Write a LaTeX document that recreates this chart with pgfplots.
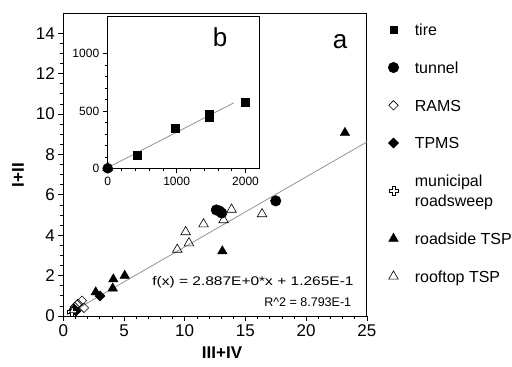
\documentclass[border=0pt]{standalone}
\usepackage{pgfplots}
\pgfplotsset{compat=1.18}
\usepackage{fontspec}
\setmainfont{Liberation Sans}
\pgfdeclareplotmark{hplus}{%
  \pgfpathmoveto{\pgfqpoint{-.35\pgfplotmarksize}{\pgfplotmarksize}}%
  \pgfpathlineto{\pgfqpoint{.35\pgfplotmarksize}{\pgfplotmarksize}}%
  \pgfpathlineto{\pgfqpoint{.35\pgfplotmarksize}{.35\pgfplotmarksize}}%
  \pgfpathlineto{\pgfqpoint{\pgfplotmarksize}{.35\pgfplotmarksize}}%
  \pgfpathlineto{\pgfqpoint{\pgfplotmarksize}{-.35\pgfplotmarksize}}%
  \pgfpathlineto{\pgfqpoint{.35\pgfplotmarksize}{-.35\pgfplotmarksize}}%
  \pgfpathlineto{\pgfqpoint{.35\pgfplotmarksize}{-\pgfplotmarksize}}%
  \pgfpathlineto{\pgfqpoint{-.35\pgfplotmarksize}{-\pgfplotmarksize}}%
  \pgfpathlineto{\pgfqpoint{-.35\pgfplotmarksize}{-.35\pgfplotmarksize}}%
  \pgfpathlineto{\pgfqpoint{-\pgfplotmarksize}{-.35\pgfplotmarksize}}%
  \pgfpathlineto{\pgfqpoint{-\pgfplotmarksize}{.35\pgfplotmarksize}}%
  \pgfpathlineto{\pgfqpoint{-.35\pgfplotmarksize}{.35\pgfplotmarksize}}%
  \pgfpathclose
  \pgfusepathqfillstroke}
\begin{document}
\begin{tikzpicture}
\path[use as bounding box] (0,0) rectangle (512bp,367bp);
\begin{axis}[
  at={(63.3bp,51bp)}, anchor=south west, scale only axis,
  width=303.5bp, height=303bp,
  xmin=0, xmax=25, ymin=0, ymax=15,
  xtick={0,5,...,25}, ytick={0,2,...,14},
  minor x tick num=4, minor y tick num=3,
  xtick pos=left, ytick pos=left, tick align=outside,
  major tick length=5bp, minor tick length=3bp,
  tick style={black, line width=0.6bp},
  axis line style={line width=0.8bp},
  /pgf/number format/assume math mode=true,
  tick label style={font=\fontsize{17bp}{20bp}\selectfont},
  xlabel={\textbf{III+IV}}, ylabel={\textbf{I+II}},
  label style={font=\fontsize{17bp}{20bp}\selectfont},
  xlabel style={at={(axis description cs:0.523,-0.122)}, anchor=center},
  ylabel style={at={(axis description cs:-0.149,0.465)}, anchor=center},
  legend style={draw=none, fill=none, at={(axis description cs:1.06,0.983)}, anchor=north west,
    cells={anchor=west, align=left}, font=\fontsize{16bp}{19bp}\selectfont, row sep=19bp,
    /tikz/every odd column/.append style={column sep=14bp}},
]
\addlegendimage{only marks, mark=square*, mark size=3.5bp, black}
\addlegendentry{\strut tire}
\addplot[only marks, mark=*, mark size=5.3bp, black] coordinates {(12.6,5.25) (12.85,5.2) (13.05,5.1) (17.5,5.7)};
\addlegendentry{\strut tunnel}
\addplot[only marks, mark=square, mark size=3.3bp, black, mark options={rotate=45, fill=white, line width=0.6bp}] coordinates {(1.54,0.76) (1.7,0.4) (1.2,0.6) (0.95,0.45)};
\addlegendentry{\strut RAMS}
\addplot[only marks, mark=square*, mark size=3.6bp, black, mark options={rotate=45}] coordinates {(3.02,0.99) (0.9,0.33) (1.05,0.25)};
\addlegendentry{\strut TPMS}
\addplot[only marks, mark=hplus, mark size=4.5bp, black, mark options={fill=white, line width=0.6bp}] coordinates {(0.7,0.2)};
\addlegendentry{\strut municipal\\[1bp]\strut roadsweep}
\addplot[only marks, mark=triangle*, mark size=5.5bp, black] coordinates {(13.1,3.21) (5.06,2.0) (4.12,1.82) (4.07,1.37) (2.67,1.18) (23.2,9.07)};
\addlegendentry{\strut roadside TSP}
\addplot[only marks, mark=triangle, mark size=5.5bp, black, mark options={fill=white, line width=0.6bp}] coordinates {(10.08,4.16) (9.39,3.29) (10.35,3.61) (11.55,4.55) (13.86,5.27) (13.2,4.75) (16.37,5.05) (0.9,0.3)};
\addlegendentry{\strut rooftop TSP}
\addplot[gray!85, line width=0.8bp, forget plot] coordinates {(0.3,0.06) (25,8.616)};
\node[anchor=east, font=\fontsize{12.5bp}{15bp}\selectfont] at (axis cs:24.2,1.69) {\scalebox{1.24}[1]{f(x) = 2.887E+0*x + 1.265E-1}};
\node[anchor=east, font=\fontsize{12.5bp}{15bp}\selectfont] at (axis cs:24.0,0.70) {R\textasciicircum 2 = 8.793E-1};
\node[font=\fontsize{26bp}{30bp}\selectfont] at (axis cs:22.8,13.6) {a};
\end{axis}
\begin{axis}[
  at={(107.7bp,198.7bp)}, anchor=south west, scale only axis,
  width=151.6bp, height=151.6bp,
  xmin=0, xmax=2200, ymin=0, ymax=1320,
  xtick={0,1000,2000}, ytick={0,500,1000},
  minor x tick num=4, minor y tick num=4,
  xtick pos=left, ytick pos=left, tick align=outside,
  major tick length=5bp, minor tick length=3bp,
  tick style={black, line width=0.6bp},
  axis line style={line width=0.8bp},
  axis background/.style={fill=white},
  scaled ticks=false,
  /pgf/number format/assume math mode=true,
  /pgf/number format/1000 sep={},
  tick label style={font=\fontsize{12bp}{14bp}\selectfont},
  clip=false,
]
\addplot[gray!85, line width=0.8bp] coordinates {(0,5) (1830,570)};
\addplot[only marks, mark=square*, mark size=4bp, black] coordinates {(421,116) (983,350) (1473,470) (1480,445) (1996,579)};
\addplot[only marks, mark=*, mark size=5bp, black] coordinates {(0,0)};
\addplot[only marks, mark=triangle, mark size=5.5bp, black, mark options={fill=white, line width=0.8bp}] coordinates {(0,5)};
\node[font=\fontsize{26bp}{30bp}\selectfont] at (axis cs:1632,1140) {b};
\end{axis}
\end{tikzpicture}
\end{document}
